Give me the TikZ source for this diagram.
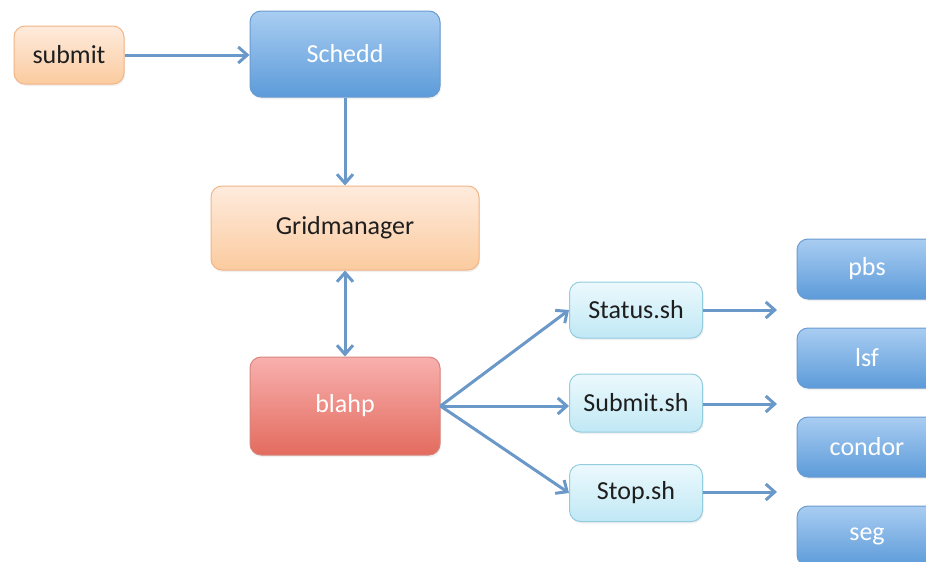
\documentclass[tikz,border=0pt]{standalone}
\usepackage{fontspec}
\setmainfont{Carlito}
\usetikzlibrary{arrows.meta,shadows}

\definecolor{linkblue}{HTML}{6A98C8}
\definecolor{orangetop}{HTML}{FEEBDD}
\definecolor{orangebot}{HTML}{FBCB9F}
\definecolor{orangeedge}{HTML}{F2B586}
\definecolor{bluetop}{HTML}{A9CDF2}
\definecolor{bluebot}{HTML}{5C9BD9}
\definecolor{blueedge}{HTML}{6A9BD0}
\definecolor{redtop}{HTML}{F8B0AE}
\definecolor{redbot}{HTML}{E36B5E}
\definecolor{rededge}{HTML}{D8857D}
\definecolor{cyantop}{HTML}{ECF9FD}
\definecolor{cyanbot}{HTML}{C0E8F5}
\definecolor{cyanedge}{HTML}{92CCDF}
\definecolor{darktext}{HTML}{1E1E1E}

\tikzset{
  box/.style={rounded corners=11pt, draw, line width=1pt, align=center,
    font=\fontsize{26}{30}\selectfont,
    drop shadow={opacity=0.12, shadow xshift=1pt, shadow yshift=-2pt}},
  orangebox/.style={box, top color=orangetop, bottom color=orangebot,
    draw=orangeedge, text=darktext},
  bluebox/.style={box, top color=bluetop, bottom color=bluebot,
    draw=blueedge, text=white},
  redbox/.style={box, top color=redtop, bottom color=redbot,
    draw=rededge, text=white},
  cyanbox/.style={box, top color=cyantop, bottom color=cyanbot,
    draw=cyanedge, text=darktext},
  barb/.tip={Straight Barb[length=9pt, width=16pt, line width=3pt]},
  link/.style={draw=linkblue, line width=3pt, -barb},
  link2/.style={draw=linkblue, line width=3pt, barb-barb}
}

\begin{document}
\begin{tikzpicture}[x=1pt, y=-1pt]
  \useasboundingbox (0,0) rectangle (926,562);
  \clip (0,0) rectangle (926,562);

  % job submission chain
  \node[orangebox, minimum width=110pt, minimum height=58pt] (submit) at (69,55) {submit};
  \node[bluebox, minimum width=190pt, minimum height=86pt] (schedd) at (345,54) {Schedd};
  \node[orangebox, minimum width=268pt, minimum height=84pt] (grid) at (345,228) {Gridmanager};
  \node[redbox, minimum width=190pt, minimum height=98pt] (blahp) at (345,406) {blahp};

  % batch system scripts
  \node[cyanbox, minimum width=133pt, minimum height=56pt] (status) at (636,310) {Status.sh};
  \node[cyanbox, minimum width=133pt, minimum height=58pt] (subsh) at (636,403) {Submit.sh};
  \node[cyanbox, minimum width=133pt, minimum height=57pt] (stop) at (636,493) {Stop.sh};

  % local resource managers
  \node[bluebox, minimum width=140pt, minimum height=60pt] (pbs) at (867,269) {pbs};
  \node[bluebox, minimum width=140pt, minimum height=60pt] (lsf) at (867,358) {lsf};
  \node[bluebox, minimum width=140pt, minimum height=60pt] (condor) at (867,447) {condor};
  \node[bluebox, minimum width=140pt, minimum height=60pt] (seg) at (867,536) {seg};

  % free ends of the script arrows
  \coordinate (statusend) at (777,310);
  \coordinate (subshend) at (777,404);
  \coordinate (stopend) at (777,492);

  % connectors
  \draw[link] (submit.east) -- (schedd.west |- submit.east);
  \draw[link] (schedd.south) -- (grid.north);
  \draw[link2] (grid.south) -- (blahp.north);
  \draw[link] (blahp.east) -- (status.west);
  \draw[link] (blahp.east) -- (subsh.west |- blahp.east);
  \draw[link] (blahp.east) -- (stop.west);
  \draw[link] (status.east) -- (statusend);
  \draw[link] (subsh.east |- subshend) -- (subshend);
  \draw[link] (stop.east |- stopend) -- (stopend);
\end{tikzpicture}
\end{document}
